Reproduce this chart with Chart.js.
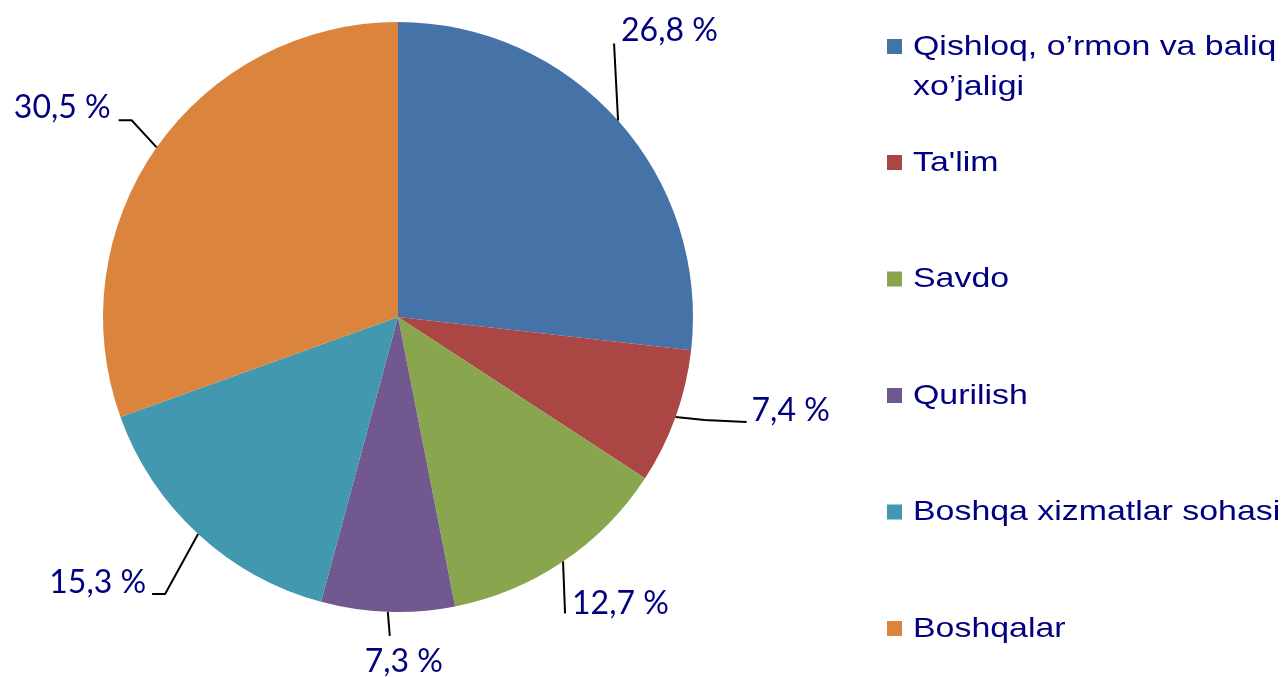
<!DOCTYPE html>
<html>
<head>
<meta charset="utf-8">
<script src="https://cdn.jsdelivr.net/npm/chart.js@4"></script>
<style>
  html, body { margin: 0; padding: 0; background: #fff; }
  #wrap { width: 1285px; height: 677px; position: relative; }
</style>
</head>
<body>
<div id="wrap"><canvas id="sectorChart"></canvas></div>
<script>
const categories = [
  ["Qishloq, o\u2019rmon va baliq", "xo\u2019jaligi"],
  ["Ta'lim"],
  ["Savdo"],
  ["Qurilish"],
  ["Boshqa xizmatlar sohasi"],
  ["Boshqalar"],
];
const shares = [26.8, 7.4, 12.7, 7.3, 15.3, 30.5];
const colors = ["#4572A7", "#AA4643", "#89A54E", "#71588F", "#4198AF", "#DB843D"];

// leader line bends relative to the slice edge point, then text offset from the line end
const leaders = [
  { pts: [[-4, -77]], text: [7, -13], align: "left" },
  { pts: [[29, 3], [71, 5]], text: [5, -11], align: "left" },
  { pts: [[2, 52]], text: [7, -10], align: "left" },
  { pts: [[2, 24]], text: [14, 26], align: "center" },
  { pts: [[-33, 60], [-46, 60]], text: [-6, -11], align: "right" },
  { pts: [[-25, -27], [-38, -27]], text: [-8, -13], align: "right" },
];

const navy = "#000080";

const fmtPct = (v) => v.toFixed(1).replace(".", ",") + " %";

const labelPlugin = {
  id: "pieLabels",
  afterDraw(chart) {
    const ctx = chart.ctx;
    const arcs = chart.getDatasetMeta(0).data;
    ctx.save();
    arcs.forEach((arc, i) => {
      const p = arc.getProps(["x", "y", "startAngle", "endAngle", "outerRadius"], true);
      const mid = (p.startAngle + p.endAngle) / 2;
      const sx = p.x + Math.cos(mid) * p.outerRadius;
      const sy = p.y + Math.sin(mid) * p.outerRadius;
      const lay = leaders[i];
      ctx.beginPath();
      ctx.moveTo(sx, sy);
      let ex = sx, ey = sy;
      lay.pts.forEach(([dx, dy]) => {
        ex = sx + dx;
        ey = sy + dy;
        ctx.lineTo(ex, ey);
      });
      ctx.strokeStyle = "#000";
      ctx.lineWidth = 2;
      ctx.stroke();

      ctx.fillStyle = navy;
      ctx.font = "32px Lato, 'Open Sans', sans-serif";
      ctx.textAlign = lay.align;
      ctx.textBaseline = "middle";
      ctx.fillText(fmtPct(shares[i]), ex + lay.text[0], ey + lay.text[1]);
    });

    // legend (text is drawn slightly stretched horizontally, like the source)
    const boxX = 887, textX = 913, firstY = 47, step = 116.5, lineH = 40, stretch = 1.21;
    categories.forEach((lines, i) => {
      const y = i === 0 ? firstY : 163 + (i - 1) * step;
      ctx.fillStyle = colors[i];
      ctx.fillRect(boxX, y - 8, 15, 15);
      ctx.save();
      ctx.translate(textX, 0);
      ctx.scale(stretch, 1);
      ctx.font = "28px 'Liberation Sans', Arial, sans-serif";
      ctx.textAlign = "left";
      ctx.textBaseline = "middle";
      ctx.fillStyle = navy;
      lines.forEach((t, k) => ctx.fillText(t, 0, y + k * lineH));
      ctx.restore();
    });
    ctx.restore();
  },
};

new Chart(document.getElementById("sectorChart"), {
  type: "pie",
  data: {
    labels: categories.map((l) => l.join(" ")),
    datasets: [
      {
        data: shares,
        backgroundColor: colors,
        borderWidth: 0,
      },
    ],
  },
  options: {
    responsive: true,
    maintainAspectRatio: false,
    animation: false,
    layout: {
      padding: { left: 103, right: 592, top: 22, bottom: 65 },
    },
    plugins: {
      legend: { display: false },
      tooltip: { enabled: false },
    },
  },
  plugins: [labelPlugin],
});
</script>
</body>
</html>
